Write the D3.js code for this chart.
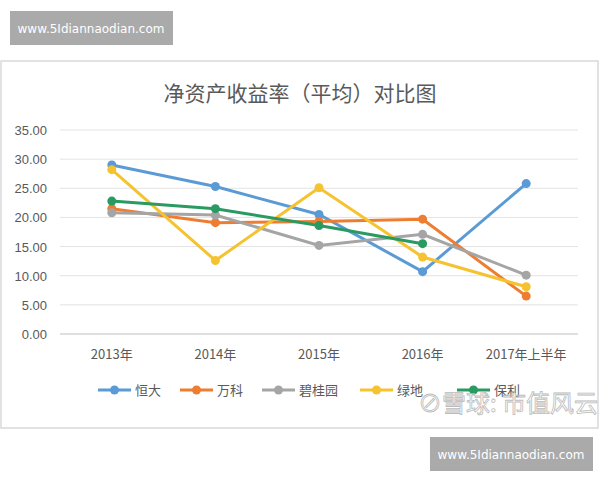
<!DOCTYPE html>
<html><head><meta charset="utf-8">
<script src="https://cdn.jsdelivr.net/npm/d3@7"></script>
<style>body{margin:0;background:#fff}text{font-family:"Noto Sans CJK SC","Liberation Serif",serif}</style>
</head><body><div id="chart"></div>
<script>
const years = ['2013年', '2014年', '2015年', '2016年', '2017年上半年']
const seriesNames = ['恒大', '万科', '碧桂园', '绿地', '保利']
const evergrande = [29.0, 25.3, 20.5, 10.7, 25.8]
const vanke = [21.5, 19.1, 19.3, 19.7, 6.5]
const countryGarden = [20.8, 20.4, 15.2, 17.1, 10.1]
const greenland = [28.2, 12.6, 25.1, 13.2, 8.1]
const poly = [22.8, 21.5, 18.6, 15.5, null]
const yTicks = [0, 5, 10, 15, 20, 25, 30, 35]

const colors = ['#5b9bd5', '#ed7d31', '#a5a5a5', '#f5c330', '#2a9a63']
const values = [evergrande, vanke, countryGarden, greenland, poly]

const svg = d3.select('#chart').append('svg').attr('width', 600).attr('height', 480)

// watermark boxes
function badge (x, y) {
  svg.append('rect').attr('x', x).attr('y', y).attr('width', 163).attr('height', 34).attr('fill', '#aaa')
  svg.append('text').attr('x', x + 81).attr('y', y + 22).attr('text-anchor', 'middle')
    .attr('fill', '#fff').style('font-family', 'DejaVu Sans').attr('font-size', 12).text('www.5Idiannaodian.com')
}
badge(10, 11)
badge(430, 437)

svg.append('rect').attr('x', 1).attr('y', 61).attr('width', 597).attr('height', 367)
  .attr('fill', '#fff').attr('stroke', '#d9d9d9').attr('stroke-width', 1.5)

svg.append('text').attr('x', 300).attr('y', 101).attr('text-anchor', 'middle')
  .attr('font-size', 21).attr('fill', '#595959').text('净资产收益率（平均）对比图')

const x = d3.scaleBand().domain(years).range([60, 578])
const y = d3.scaleLinear().domain([0, 35]).range([334, 130])

const grid = svg.append('g')
grid.selectAll('line').data(yTicks).enter().append('line')
  .attr('x1', 60).attr('x2', 578).attr('y1', d => y(d)).attr('y2', d => y(d))
  .attr('stroke', d => d === 0 ? '#bfbfbf' : '#e3e3e3')
grid.selectAll('text').data(yTicks).enter().append('text')
  .attr('x', 47).attr('y', d => y(d) + 5).attr('text-anchor', 'end')
  .style('font-family', 'Liberation Sans').attr('font-size', 13).attr('fill', '#595959')
  .text(d => d.toFixed(2))

svg.append('g').selectAll('text').data(years).enter().append('text')
  .attr('x', d => x(d) + x.bandwidth() / 2).attr('y', 359).attr('text-anchor', 'middle')
  .attr('font-size', 13).attr('fill', '#595959').text(d => d)

const line = d3.line().defined(d => d != null)
  .x((d, i) => x(years[i]) + x.bandwidth() / 2).y(d => y(d))

values.forEach((vals, s) => {
  const g = svg.append('g')
  g.append('path').attr('d', line(vals)).attr('fill', 'none')
    .attr('stroke', colors[s]).attr('stroke-width', 3)
  g.selectAll('circle').data(vals.map((v, i) => ({ v, i })).filter(d => d.v != null))
    .enter().append('circle')
    .attr('cx', d => x(years[d.i]) + x.bandwidth() / 2).attr('cy', d => y(d.v))
    .attr('r', 4.5).attr('fill', colors[s])
})

// legend
const legendX = [98, 180, 262, 360, 457]
seriesNames.forEach((name, i) => {
  const lx = legendX[i]
  svg.append('line').attr('x1', lx).attr('x2', lx + 33).attr('y1', 390).attr('y2', 390)
    .attr('stroke', colors[i]).attr('stroke-width', 3)
  svg.append('circle').attr('cx', lx + 16.5).attr('cy', 390).attr('r', 4.5).attr('fill', colors[i])
  svg.append('text').attr('x', lx + 37).attr('y', 395).attr('font-size', 13)
    .attr('fill', '#595959').text(name)
})

svg.append('text').attr('x', 418).attr('y', 412).attr('font-size', 24)
  .attr('fill', 'none').attr('stroke', '#bbb').attr('stroke-width', 0.8).text('⊘雪球: 市值风云')
</script></body></html>
